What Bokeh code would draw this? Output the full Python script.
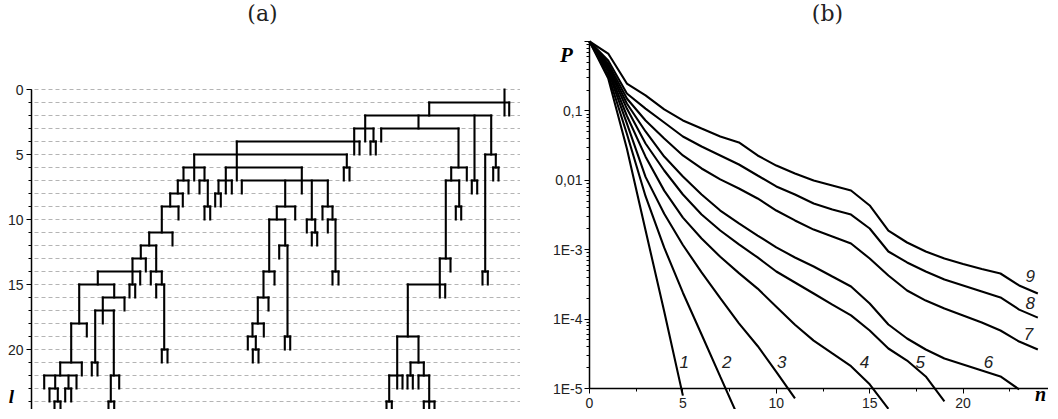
import numpy as np
from bokeh.plotting import figure
from bokeh.layouts import row
from bokeh.models import Range1d, FixedTicker, SingleIntervalTicker, Label, CustomJSTickFormatter
from bokeh.core.properties import value
from bokeh.embed import file_html
from bokeh.resources import INLINE

# ---------------- Panel (a): branching tree ----------------
# horizontal branching bars: level, left x, right x
bar_level = [1, 2, 3, 3, 4, 5, 5, 6, 6, 6, 7, 7, 7, 7, 7, 8, 9, 9, 9, 10, 10, 10, 11, 12, 12,
             13, 13, 14, 14, 14, 15, 15, 15, 16, 16, 17, 18, 18, 19, 19, 21, 21, 22, 22, 22, 22, 23, 24]
bar_x0 = [430.7, 366.7, 355.7, 382.7, 238.3, 195.7, 486.7, 185, 227.3, 452.7, 179.3, 201, 220, 243.3, 447.3,
          171.7, 163.3, 278.3, 324, 270.7, 308.3, 329.3, 150.7, 142.3, 280.7,
          134, 441.3, 99.3, 152.3, 265, 80.7, 157.7, 409.3, 104.3, 259.3, 96.7, 72.7, 254, 249.3, 398.7,
          61.7, 412, 45.7, 112.3, 390.7, 420, 51, 425.3]
bar_x1 = [510.7, 492.7, 375, 460, 361, 348.3, 497.3, 206, 303.3, 468.3, 190, 209.3, 233.3, 329.3, 460.7,
          184.3, 180, 296.7, 334, 286.7, 316.7, 337, 174, 157.7, 289,
          147.3, 452, 141.7, 163.3, 276, 115.7, 165.7, 446.7, 126, 270, 115.7, 88.3, 265.3, 257.3, 420,
          83.3, 425.3, 78, 120.7, 404, 430.7, 59.3, 436]

# vertical lines: x, top level, bottom level
stem_x = [506, 510.7, 430.7, 366.7, 420, 476, 492.7, 355.7, 375, 382.7, 460, 238.3, 361, 195.7, 348.3,
          486.7, 497.3, 185, 206, 227.3, 303.3, 468.3, 452.7, 179.3, 190, 201, 209.3, 220, 233.3, 243.3,
          286.7, 313.3, 329.3, 447.3, 460.7, 171.7, 184.3, 163.3, 180, 278.3, 296.7, 324, 334, 270.7,
          286.7, 308.3, 316.7, 329.3, 337, 150.7, 174, 142.3, 157.7, 280.7, 289, 134, 147.3, 441.3, 452,
          99.3, 141.7, 152.3, 163.3, 265, 276, 80.7, 115.7, 157.7, 165.7, 409.3, 446.7, 104.3, 126, 259.3,
          270, 96.7, 115.3, 72.7, 88.3, 254, 265.3, 249.3, 257.3, 398.7, 420, 83.3, 61.7, 412, 425.3,
          45.7, 56.7, 70, 78, 120.7, 112.3, 390.7, 398.7, 404, 420, 430.7, 51, 59.3, 425.3, 430.7, 436]
stem_top = [0, 1, 1, 2, 2, 2, 2, 3, 3, 3, 3, 4, 4, 5, 5,
            5, 5, 6, 6, 6, 6, 6, 6, 7, 7, 7, 7, 7, 7, 7,
            7, 7, 7, 7, 7, 8, 8, 9, 9, 9, 9, 9, 9, 10,
            10, 10, 10, 10, 10, 11, 11, 12, 12, 12, 12, 13, 13, 13, 13,
            14, 14, 14, 14, 14, 14, 15, 15, 15, 15, 15, 15, 16, 16, 16,
            16, 17, 17, 18, 18, 18, 18, 19, 19, 19, 19, 21, 21, 21, 21,
            22, 22, 22, 22, 22, 22, 22, 22, 22, 22, 22, 23, 23, 24, 24, 24]
stem_bottom = [2, 2, 2, 4, 3, 7, 5, 5, 4, 4, 6, 7, 5, 7, 6,
               14, 6, 7, 7, 8, 8, 7, 7, 8, 8, 8, 9, 8, 8, 8,
               9, 10, 9, 13, 9, 9, 9, 11, 10, 10, 10, 10, 10, 14,
               12, 11, 11, 11, 14, 12, 12, 13, 14, 13, 19, 15, 14, 16, 14,
               15, 15, 15, 15, 16, 15, 18, 16, 16, 20, 19, 16, 18, 17, 18,
               17, 21, 22, 21, 19, 19, 19, 20, 20, 22, 21, 22, 22, 22, 22,
               23, 23, 23, 23, 23, 24, 24, 23, 23, 23, 24, 24, 24, 25, 25, 25]

# two-prong end forks: left x, right x, level
fork_x0 = [473.3, 494.7, 484, 372, 345.3, 457.3, 206, 216.7, 313.3, 334, 286.3, 254.3, 131, 163.3,
           93.3, 110, 56, 66.7, 409, 388]
fork_x1 = [478.7, 500, 489.3, 377.3, 351, 462.7, 211.7, 222.3, 318.7, 340, 291.7, 260, 136.7, 169,
           99, 115.7, 62, 72.7, 414.3, 393.3]
fork_level = [7, 6, 14, 4, 6, 9, 9, 8, 11, 14, 19, 20, 15, 20, 21, 24, 24, 23, 22, 24]

level_lines = list(range(0, 25))

# ---------------- Panel (b): probability curves ----------------
curve_P = [
    [1, 0.295, 0.0288, 1.9e-3, 1.29e-4, 7.9e-6],
    [1, 0.331, 0.0468, 5.9e-3, 1.07e-3, 2.4e-4, 6.0e-5, 1.48e-5, 3.7e-6],
    [1, 0.372, 0.066, 0.0112, 3.3e-3, 1.17e-3, 4.7e-4, 2.0e-4, 8.7e-5, 4.1e-5, 1.74e-5, 7.2e-6],
    [1, 0.398, 0.0851, 0.0219, 7.1e-3, 2.9e-3, 1.45e-3, 7.9e-4, 4.6e-4, 2.75e-4, 1.51e-4, 8.3e-5,
     4.9e-5, 3.2e-5, 2.1e-5, 1.15e-5, 5.1e-6],
    [1, 0.422, 0.108, 0.0339, 0.01384, 6.24e-3, 3.21e-3, 1.89e-3, 1.19e-3, 7.73e-4, 4.85e-4, 3.37e-4,
     2.34e-4, 1.62e-4, 1.13e-4, 6.85e-5, 3.77e-5, 2.53e-5, 1.49e-5, 6.5e-6],
    [1, 0.451, 0.128, 0.0505, 0.0220, 0.01135, 6.24e-3, 3.67e-3, 2.39e-3, 1.60e-3, 1.08e-3, 7.73e-4,
     5.73e-4, 4.11e-4, 2.95e-4, 1.68e-4, 8.36e-5, 5.25e-5, 3.65e-5, 2.70e-5, 2.22e-5, 1.82e-5, 1.49e-5, 9.7e-6],
    [1, 0.482, 0.151, 0.0728, 0.0400, 0.0228, 0.0148, 0.0103, 7.62e-3, 5.47e-3, 3.67e-3, 2.64e-3,
     1.95e-3, 1.55e-3, 1.23e-3, 7.46e-4, 4.25e-4, 2.58e-4, 1.85e-4, 1.42e-4, 1.13e-4, 8.93e-5, 6.85e-5,
     4.75e-5, 3.65e-5],
    [1, 0.532, 0.178, 0.108, 0.0681, 0.0428, 0.0307, 0.0228, 0.0169, 0.01172, 8.15e-3, 6.24e-3,
     4.63e-3, 3.79e-3, 3.21e-3, 2.02e-3, 9.42e-4, 6.55e-4, 4.85e-4, 3.72e-4, 3.05e-4, 2.50e-4, 2.05e-4,
     1.37e-4, 1.05e-4],
    [1, 0.671, 0.248, 0.167, 0.105, 0.0728, 0.0557, 0.0428, 0.0351, 0.0228, 0.0163, 0.01253,
     9.93e-3, 8.41e-3, 7.13e-3, 4.34e-3, 1.89e-3, 1.27e-3, 9.42e-4, 7.46e-4, 6.22e-4, 5.27e-4, 4.54e-4,
     3.05e-4, 2.34e-4],
]
curve_names = ["1", "2", "3", "4", "5", "6", "7", "8", "9"]
label_n = [5.07, 7.35, 10.29, 14.72, 17.70, 21.36, 23.50, 23.59, 23.59]
label_P = [2.43e-5, 2.43e-5, 2.43e-5, 2.43e-5, 2.43e-5, 2.43e-5, 6.2e-5, 1.68e-4, 4.2e-4]
x_major = [0, 5, 10, 15, 20]
x_minor = [2.5, 7.5, 12.5, 17.5, 22.5]
y_decades = [1e-5, 1e-4, 1e-3, 1e-2, 1e-1, 1]

TICK_FONT = "Liberation Sans"
H = 409

# ---------------- build panel (a) ----------------
WA = 520
pa = figure(width=WA, height=H, output_backend="svg", toolbar_location=None,
            x_range=Range1d(2, 2 + WA), y_range=Range1d((H + 2 - 91) / 13.0, (2 - 91) / 13.0),
            x_axis_location=None, min_border_left=0, min_border_right=0,
            min_border_top=0, min_border_bottom=0)
pa.outline_line_color = None
pa.grid.visible = False
ya = pa.yaxis[0]
ya.fixed_location = 33
ya.bounds = (0, 24.7)
ya.ticker = SingleIntervalTicker(interval=5, num_minor_ticks=5)
ya.axis_line_width = 1.5
ya.major_tick_out = 5
ya.major_tick_in = 0
ya.minor_tick_out = 3
ya.minor_tick_in = 0
ya.major_label_standoff = 3
ya.major_label_text_font = TICK_FONT
ya.major_label_text_font_size = "14px"
ya.major_label_text_color = "#222222"

pa.segment(x0=[36] * len(level_lines), y0=level_lines, x1=[528] * len(level_lines), y1=level_lines,
           line_color="#b4b4b4", line_width=1, line_dash="4 3")

sx0, sy0, sx1, sy1 = [], [], [], []
for L, a, b in zip(bar_level, bar_x0, bar_x1):
    sx0.append(a); sy0.append(L); sx1.append(b); sy1.append(L)
for x, t, btm in zip(stem_x, stem_top, stem_bottom):
    sx0.append(x); sy0.append(t); sx1.append(x); sy1.append(btm)
for a, b, L in zip(fork_x0, fork_x1, fork_level):
    sx0 += [a, a, b]; sy0 += [L, L, L]; sx1 += [b, a, b]; sy1 += [L, L + 1, L + 1]
pa.segment(x0=sx0, y0=sy0, x1=sx1, y1=sy1, line_color="black", line_width=2.1, line_cap="square")

pa.add_layout(Label(x=264, y=-5.85, text="(a)", text_align="center", text_baseline="middle",
                    text_font="DejaVu Serif", text_font_size="22px", text_color="#222222"))
pa.add_layout(Label(x=13, y=23.6, text="l", text_align="center", text_baseline="middle",
                    text_font="Liberation Serif", text_font_style="bold italic",
                    text_font_size="19px", text_color="black"))

# ---------------- build panel (b) ----------------
WB = 528
PX_N = 18.68     # pixels per unit n in the reference
PX_DEC = 69.4    # pixels per decade in the reference
x0_page = 2 + WA
pb = figure(width=WB, height=H, output_backend="svg", toolbar_location=None,
            x_range=Range1d((x0_page - 591) / PX_N, (x0_page + WB - 591) / PX_N),
            y_range=Range1d(10 ** (-(H + 2 - 43) / PX_DEC), 10 ** (-(2 - 43) / PX_DEC)),
            y_axis_type="log",
            min_border_left=0, min_border_right=0, min_border_top=0, min_border_bottom=0)
pb.outline_line_color = None
pb.grid.visible = False

xb = pb.xaxis[0]
xb.fixed_location = 1e-5
xb.bounds = (0, 26)
xb.ticker = FixedTicker(ticks=x_major, minor_ticks=x_minor)
yb = pb.yaxis[0]
yb.fixed_location = 0
yb.bounds = (1e-5, 1)
yminor = [m * d for d in y_decades[:-1] for m in range(2, 10)]
yb.ticker = FixedTicker(ticks=y_decades, minor_ticks=yminor)
yb.formatter = CustomJSTickFormatter(code="""
const m = {"-5": "1E-5", "-4": "1E-4", "-3": "1E-3", "-2": "0,01", "-1": "0,1", "0": ""};
return m[String(Math.round(Math.log10(tick)))];
""")
for ax in (xb, yb):
    ax.axis_line_width = 1.5
    ax.major_tick_out = 5
    ax.major_tick_in = 0
    ax.minor_tick_out = 3
    ax.minor_tick_in = 0
    ax.major_label_text_font = TICK_FONT
    ax.major_label_text_font_size = "14px"
    ax.major_label_text_color = "#222222"
xb.major_label_standoff = 4
yb.major_label_standoff = 2

for P in curve_P:
    pb.line(list(range(len(P))), P, line_color="black", line_width=2.1)

pb.text(x=label_n, y=label_P, text=curve_names, text_font=value(TICK_FONT),
        text_font_style="italic", text_font_size="17px", text_color="#222222",
        text_align="center", text_baseline="middle")

pb.add_layout(Label(x=12.74, y=2.53, text="(b)", text_align="center", text_baseline="middle",
                    text_font="DejaVu Serif", text_font_size="22px", text_color="#222222"))
pb.add_layout(Label(x=-1.23, y=0.63, text="P", text_align="center", text_baseline="middle",
                    text_font="Liberation Serif", text_font_style="bold italic",
                    text_font_size="21px", text_color="black"))
pb.add_layout(Label(x=24.15, y=8.2e-6, text="n", text_align="center",
                    text_baseline="middle", text_font="Liberation Serif",
                    text_font_style="bold italic", text_font_size="20px", text_color="black"))

layout = row(pa, pb)
open("out.html", "w").write(file_html(layout, INLINE))
